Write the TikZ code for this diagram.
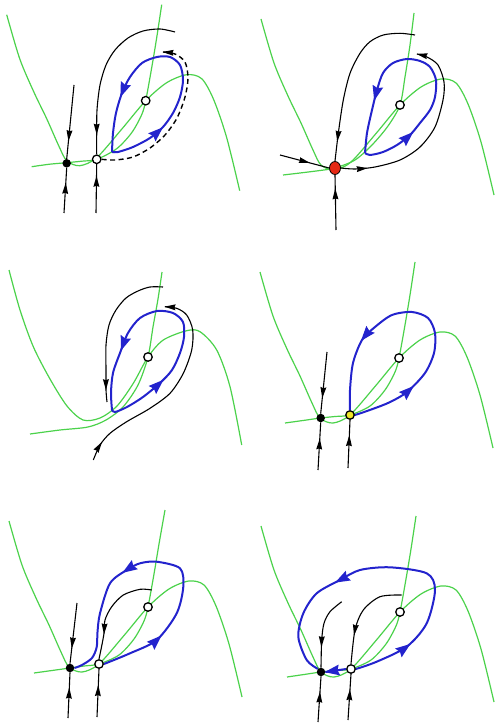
\documentclass[tikz,border=0pt]{standalone}
\usetikzlibrary{arrows.meta,decorations.markings,backgrounds,shapes.geometric}
\definecolor{ncgreen}{RGB}{75,210,75}
\definecolor{cycblue}{RGB}{35,35,205}
\definecolor{sndred}{RGB}{230,40,20}
\definecolor{hyell}{RGB}{240,230,40}
\tikzset{
 ncl/.style={draw=ncgreen, line width=1.2pt},
 cyc/.style={draw=cycblue, line width=2pt},
 traj/.style={draw=black, line width=1.1pt},
 dtraj/.style={draw=black, line width=1.4pt, dash pattern=on 5pt off 3.5pt},
 barr/.style={postaction={decorate, decoration={markings, mark=at position #1 with {\fill[cycblue] (5pt,0pt) -- (-10pt,5.5pt) -- (-8pt,0pt) -- (-10pt,-5.5pt) -- cycle;}}}},
 karr/.style={postaction={decorate, decoration={markings, mark=at position #1 with {\fill[black] (3pt,0pt) -- (-8pt,3pt) -- (-7pt,0pt) -- (-8pt,-3pt) -- cycle;}}}},
 kend/.style={postaction={decorate, decoration={markings, mark=at position -0.5pt with {\fill[black] (1pt,0pt) -- (-10pt,3pt) -- (-9pt,0pt) -- (-10pt,-3pt) -- cycle;}}}},
 bdot/.style={circle, fill=black, inner sep=0pt, minimum size=8.5pt},
 wdot/.style={circle, draw=black, line width=1.3pt, fill=white, inner sep=0pt, minimum size=8.5pt},
 ydot/.style={wdot, fill=hyell},
 rdot/.style={ellipse, draw=black, line width=0.8pt, fill=sndred, inner sep=0pt, minimum width=11pt, minimum height=13pt},
 cubic/.pic={\draw[ncl] plot[smooth] coordinates {(-139,-86) (-126,-42) (-112,-9) (-99,18) (-87,45) (-79,60) (-66,65) (-49,57) (-24,28.5) (0,0) (21,-18) (41,-26) (56,-22) (68,-1) (81,37) (94,90)};}
}
\begin{document}
\begin{tikzpicture}[x=1pt,y=-1pt]
\useasboundingbox (0,0) rectangle (495,727);

% ---------- panel 1 ----------
\begin{scope}[shift={(145.7,100.7)}]
 \node[wdot] (c1) at (0,0) {};
 \node[bdot] (b1) at (-79,62.6) {};
 \node[wdot] (w1) at (-49,58.6) {};
 \coordinate (t1a) at (-71.7,-15.7);
 \coordinate (t1b) at (-81.7,112.3);
 \coordinate (t1c) at (-49.7,112.3);
 \coordinate (t1d) at (29.3,-68.7);
 \begin{scope}[on background layer]
  \pic {cubic};
  \draw[ncl] plot[smooth] coordinates {(-114,66) (-96,63.5) (-79,62) (-64,60.5) (-49,58.6) (-29,48) (-14,32) (-4,14) (0,0) (6,-33) (11,-63) (16,-96)};
  \draw[cyc, barr=0.2, barr=0.77] plot[smooth] coordinates {(-33.7,51.3) (-27.7,51.3) (-12.7,46.3) (4.3,37.3) (17.3,26.3) (27.3,12.3) (34.3,-3.7) (37.3,-20.7) (34.3,-35.7) (24.3,-43.7) (11.3,-43.7) (-3.7,-37.7) (-15.7,-23.7) (-23.7,-7.7) (-29.7,12.3) (-32.7,32.3) (-33.7,51.3)};
  \draw[dtraj, kend] plot[smooth] coordinates {(w1.east) (-30.7,59.3) (-12.7,56.3) (4.3,47.3) (19.3,34.3) (31.3,17.3) (39.3,-3.7) (42.3,-22.7) (39.3,-38.7) (29.3,-46.7) (17.3,-48.7)};
  \draw[traj, karr=0.87] plot[smooth] coordinates {(t1d) (14.3,-71.7) (-2.7,-69.7) (-17.7,-62.7) (-30.7,-50.7) (-39.7,-35.7) (-45.7,-15.7) (-48.7,9.3) (-49,34.3) (w1.north)};
  \draw[traj, karr=0.72] (t1a) -- (b1.north);
  \draw[traj, karr=0.6] (t1b) -- (b1.south);
  \draw[traj, karr=0.7] (t1c) -- (w1.south);
 \end{scope}
\end{scope}

% ---------- panel 2 ----------
\begin{scope}[shift={(400,105)}]
 \node[wdot] (c2) at (0,0) {};
 \node[rdot] (r2) at (-65,63) {};
 \coordinate (t2a) at (-120,50);
 \coordinate (t2b) at (-64,125);
 \coordinate (t2c) at (15,-70);
 \begin{scope}[on background layer]
  \pic {cubic};
  \draw[ncl] plot[smooth] coordinates {(-117,70) (-100,68) (-80,65.5) (-65,63) (-45,55) (-28,40) (-12,21) (0,0) (5,-28) (10,-60) (14,-92)};
  \draw[cyc, barr=0.19, barr=0.78] plot[smooth] coordinates {(-35,48) (-30,50) (-17,47) (-3,40) (10,30) (20,18) (30,5) (35,-8) (36,-25) (30,-38) (20,-44) (7,-46) (-7,-42) (-17,-32) (-23,-15) (-28,5) (-33,28) (-35,48)};
  \draw[traj, karr=0.87] plot[smooth] coordinates {(t2c) (0,-71.7) (-16.7,-70) (-30,-63.3) (-40,-51.7) (-50,-31.7) (-56.7,-5) (-61.7,28.3) (r2.north)};
  \draw[traj, karr=0.12, kend] plot[smooth] coordinates {(r2.east) (-45,64) (-25,62) (0,55) (20,42) (35,22) (43,-5) (44,-23) (38,-40) (27,-48) (17,-51)};
  \draw[traj, karr=0.55] (t2a) -- (r2.west);
  \draw[traj, karr=0.7] (t2b) -- (r2.south);
 \end{scope}
\end{scope}

% ---------- panel 3 ----------
\begin{scope}[shift={(148,357)}]
 \node[wdot] (c3) at (0,0) {};
 \coordinate (t3a) at (15,-70);
 \coordinate (t3b) at (-41,45);
 \coordinate (t3c) at (-54.7,103);
 \begin{scope}[on background layer]
  \draw[ncl] plot[smooth] coordinates {(-139,-87) (-128,-47) (-114.7,-10.3) (-98,22) (-81,49) (-65,63) (-48,61) (-31,49) (-14.7,26.3) (0,0) (15.3,-17) (38.7,-26.3) (52,-25.3) (68.7,-7) (82,29.7) (93.7,88)};
  \draw[ncl] plot[smooth] coordinates {(-118,77) (-88,73) (-60,70) (-42,63) (-25,50) (-10,28) (0,0) (5,-30) (10,-58) (14,-85)};
  \draw[cyc, barr=0.21, barr=0.76] plot[smooth] coordinates {(-36,53) (-33,55) (-21,50) (-5,40) (12,26) (24,13) (32,-4) (36,-20) (35,-35) (25,-44) (9,-46) (-8,-39) (-20,-24) (-28,-4) (-35,16) (-37,36) (-36,53)};
  \draw[traj, karr=0.9] plot[smooth] coordinates {(t3a) (2,-70) (-10,-66) (-22,-59) (-32,-47) (-39,-32) (-42,-12) (-42,13) (-42,33) (t3b)};
  \draw[traj, karr=0.08, kend] plot[smooth] coordinates {(t3c) (-48,88) (-38,76.3) (-21.3,64.7) (2,51.3) (22,36.3) (35.3,16.3) (43.7,-7) (44.7,-27) (38.7,-42) (28.7,-48.7) (17,-50.3)};
 \end{scope}
\end{scope}

% ---------- panel 4 ----------
\begin{scope}[shift={(399,358)}]
 \node[wdot] (c4) at (0,0) {};
 \node[bdot] (b4) at (-78.3,60) {};
 \node[ydot] (y4) at (-49,57) {};
 \coordinate (t4a) at (-72,-6);
 \coordinate (t4b) at (-81,112);
 \coordinate (t4c) at (-51,110);
 \begin{scope}[on background layer]
  \pic {cubic};
  \draw[ncl] plot[smooth] coordinates {(-114,65) (-96,62.5) (-78.3,60) (-64,58.5) (-49,57) (-29,48) (-14,32) (-4,14) (0,0) (6,-33) (11,-63) (16,-96)};
  \draw[cyc, barr=0.21, barr=0.74] plot[smooth] coordinates {(y4.east) (-34,53.7) (-11,45) (8,34) (26,15) (35,-5) (36,-25) (29,-40) (13,-46) (-7,-43) (-24,-31) (-37,-18) (-46,5) (-49,32) (y4.north)};
  \draw[traj, karr=0.7] (t4a) -- (b4.north);
  \draw[traj, karr=0.6] (t4b) -- (b4.south);
  \draw[traj, karr=0.62] (t4c) -- (y4.south);
 \end{scope}
\end{scope}

% ---------- panel 5 ----------
\begin{scope}[shift={(148,607)}]
 \node[wdot] (c5) at (0,0) {};
 \node[bdot] (b5) at (-78,61) {};
 \node[wdot] (w5) at (-49,57) {};
 \coordinate (t5a) at (-71,-4);
 \coordinate (t5b) at (-80,111);
 \coordinate (t5c) at (-51,110);
 \coordinate (t5d) at (3.7,-17);
 \begin{scope}[on background layer]
  \pic {cubic};
  \draw[ncl] plot[smooth] coordinates {(-114,66) (-96,63.5) (-78,61) (-64,59) (-49,57) (-29,48) (-14,32) (-4,14) (0,0) (6,-33) (11,-63) (17,-97)};
  \draw[cyc, barr=0.19, barr=0.62] plot[smooth] coordinates {(w5.east) (-18,46.3) (8.7,33) (28.7,6.3) (35.3,-20.3) (32,-38.7) (8.7,-45.3) (-8,-43.7) (-21.3,-37) (-38,-23.7) (-48,6.3) (-50.5,25) (-51.3,40) (-56,51) (-66,58) (b5.east)};
  \draw[traj, karr=0.72] plot[smooth] coordinates {(t5d) (-8,-17.7) (-24.7,-12) (-36.3,-0.3) (-43,13) (-44,26.3) (-46.5,40) (w5.north)};
  \draw[traj, karr=0.7] (t5a) -- (b5.north);
  \draw[traj, karr=0.6] (t5b) -- (b5.south);
  \draw[traj, karr=0.6] (t5c) -- (w5.south);
 \end{scope}
\end{scope}

% ---------- panel 6 ----------
\begin{scope}[shift={(400,612)}]
 \node[wdot] (c6) at (0,0) {};
 \node[bdot] (b6) at (-79,60) {};
 \node[wdot] (w6) at (-49,57) {};
 \coordinate (t6a) at (-82,110);
 \coordinate (t6b) at (-52,108);
 \coordinate (t6c) at (-58.3,-10.3);
 \coordinate (t6d) at (1.7,-17);
 \begin{scope}[on background layer]
  \pic {cubic};
  \draw[ncl] plot[smooth] coordinates {(-113,65) (-96,62.5) (-79,60) (-64,58.5) (-49,57) (-29,48) (-14,32) (-4,14) (0,0) (6,-33) (11,-63) (16,-96)};
  \draw[cyc, barr=0.16, barr=0.67] plot[smooth] coordinates {(w6.east) (-23.3,49.7) (6.7,34.7) (26.7,11.3) (35,-22) (26.7,-38.7) (-10,-44.7) (-40,-42) (-60,-32) (-83.3,-18.7) (-96.7,1.3) (-101.7,24.7) (-93.3,48) (b6.north west)};
  \draw[cyc, barr=0.8] (w6.west) -- (b6.east);
  \draw[traj, karr=0.68] plot[smooth] coordinates {(t6c) (-70,-0.3) (-76,11.3) (-78.3,28) (b6.north)};
  \draw[traj, karr=0.68] plot[smooth] coordinates {(t6d) (-20,-15.3) (-36.7,-2) (-45,18) (w6.north)};
  \draw[traj, karr=0.6] (t6a) -- (b6.south);
  \draw[traj, karr=0.6] (t6b) -- (w6.south);
 \end{scope}
\end{scope}
\end{tikzpicture}
\end{document}
